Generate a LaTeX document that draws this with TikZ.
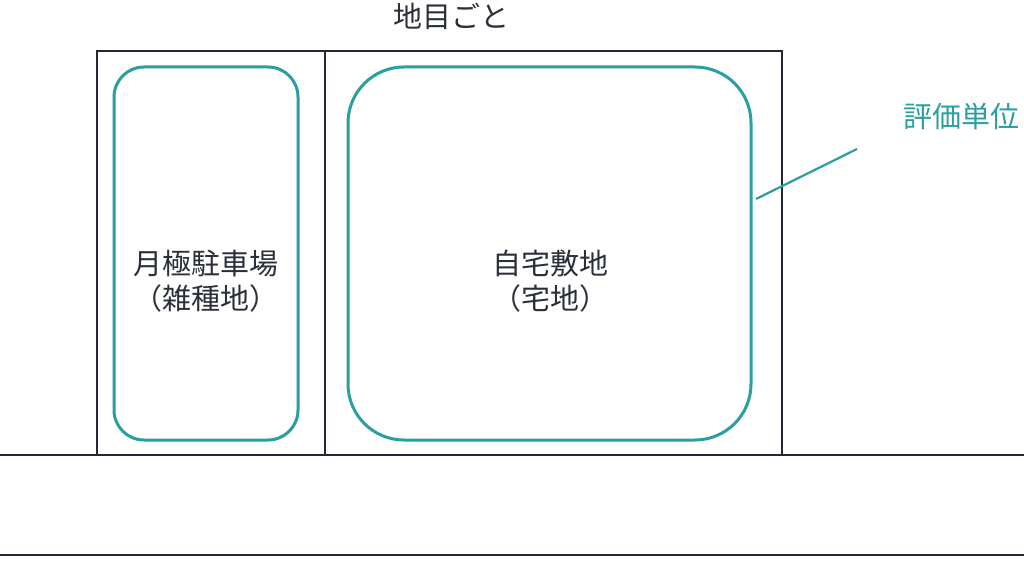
\documentclass[tikz,border=0pt]{standalone}
\usepackage{fontspec}
\newfontfamily\cjk{Noto Sans CJK JP}
\definecolor{navy}{HTML}{232838}
\definecolor{teal2}{HTML}{2A9FA0}
\definecolor{txt}{HTML}{2B2F3A}
\begin{document}
\begin{tikzpicture}[x=1pt,y=-1pt,
  parcel/.style={draw=navy,line width=1.8pt},
  unit/.style={draw=teal2,line width=3pt},
  lbl/.style={font=\cjk\fontsize{29}{35}\selectfont,text=txt,align=center,inner sep=0pt},
  tlbl/.style={font=\cjk\fontsize{29}{35}\selectfont,text=teal2,inner sep=0pt}]
\useasboundingbox (0,0) rectangle (1024,561);
\fill[white] (0,0) rectangle (1024,561);
% road lines
\draw[parcel] (0,455) -- (1024,455);
\draw[parcel] (0,555) -- (1024,555);
% parcels
\draw[parcel] (97,51) rectangle (782,455);
\draw[parcel] (325,51) -- (325,455);
% evaluation units
\draw[unit,rounded corners=30pt] (114,67) rectangle (298,440);
\draw[unit,rounded corners=56pt] (348,67) rectangle (751,440);
\node[lbl] (park) at (206,281) {月極駐車場\\（雑種地）};
\node[lbl] (home) at (550,281) {自宅敷地\\（宅地）};
\node[lbl] (title) at (451,16) {地目ごと};
\node[tlbl] (unitlbl) at (961,116) {評価単位};
\coordinate (lstart) at (857,149);
\coordinate (lend) at (756,199);
\draw[draw=teal2,line width=2.2pt] (lstart) -- (lend);
\end{tikzpicture}
\end{document}
